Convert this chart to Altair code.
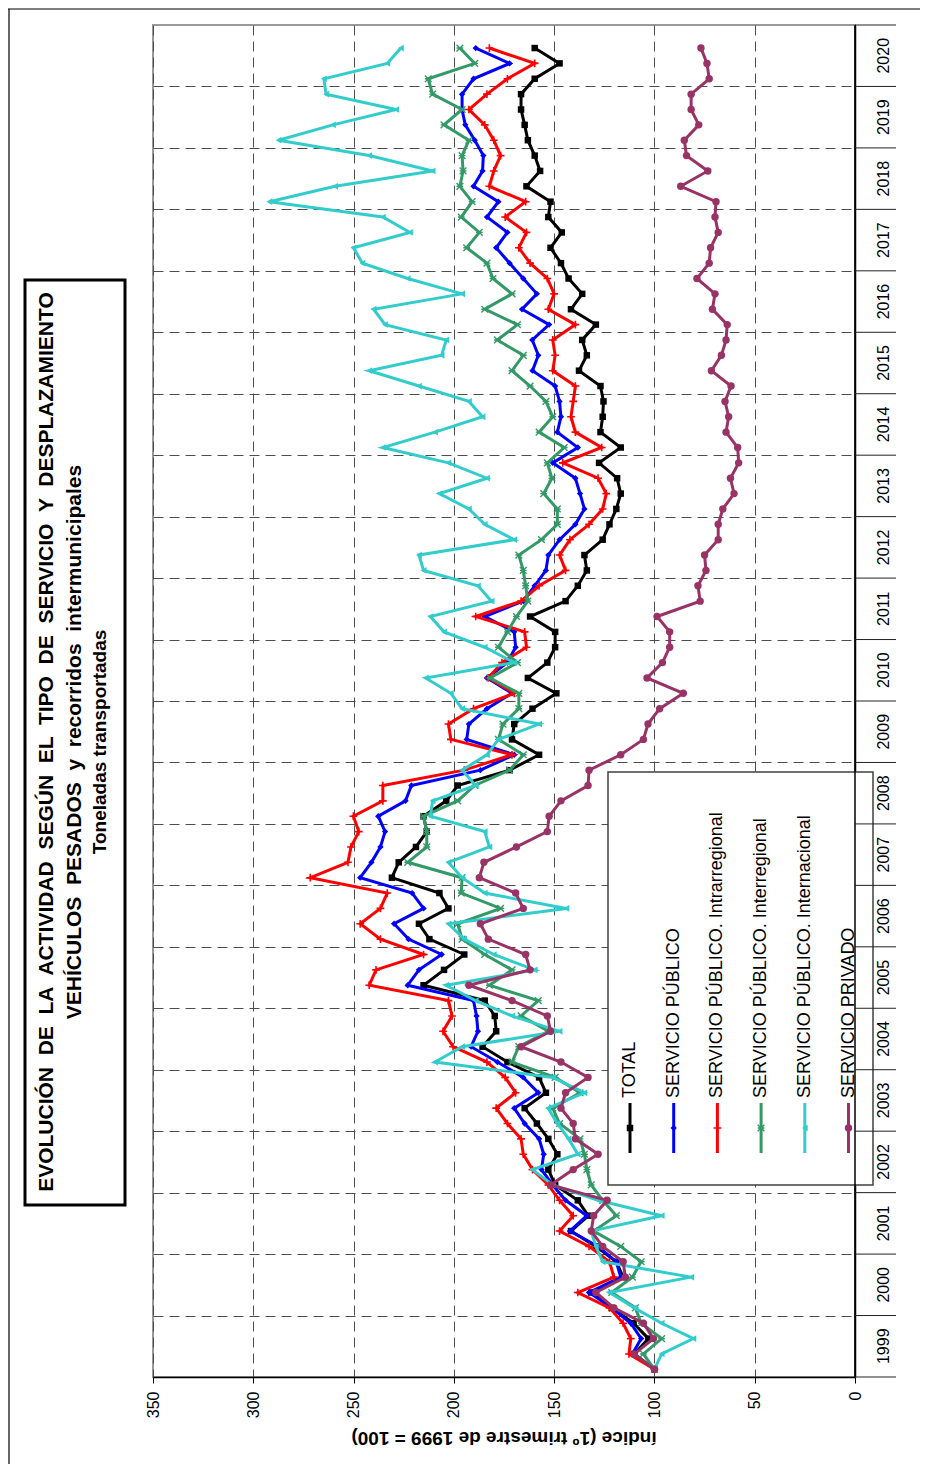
import altair as alt
import pandas as pd

FONT = "Liberation Sans"
W, H = 702, 1352

YEARS = list(range(1999, 2021))
QUARTERS = [f"{y}-T{q}" for y in YEARS for q in range(1, 5)][:87]
INDEX_TICKS = [0, 50, 100, 150, 200, 250, 300, 350]

TITLE_LINES = [
    "EVOLUCIÓN  DE  LA  ACTIVIDAD  SEGÚN  EL  TIPO  DE  SERVICIO  Y  DESPLAZAMIENTO",
    "VEHÍCULOS  PESADOS  y  recorridos  intermunicipales",
    "Toneladas transportadas",
]
AXIS_TITLE = "índice (1º trimestre de 1999 = 100)"

SERIES = [
    "TOTAL",
    "SERVICIO PÚBLICO",
    "SERVICIO PÚBLICO. Intrarregional",
    "SERVICIO PÚBLICO. Interregional",
    "SERVICIO PÚBLICO. Internacional",
    "SERVICIO PRIVADO",
]

total = [100, 110, 103, 110.4, 121.3, 131.5, 115.6, 119, 129.2, 141.6,
         133, 138.2, 149.5, 152.9, 148.4, 152.9, 158.6, 164.7, 154.1, 157.5,
         173.3, 185.7, 178.9, 179.6, 184.6, 215.1, 204.9, 194.8, 212.2, 217.4,
         202.7, 207.2, 230.9, 227.5, 218.9, 213.5, 215.1, 203.8, 198.1, 172.2,
         157.5, 171, 169.9, 160.8, 148.9, 163.1, 153.4, 149.5, 149.5, 162,
         144.3, 138.2, 133.7, 134.9, 125.8, 122.4, 119, 116.8, 118.6, 127.6,
         116.8, 126.9, 125.8, 125.4, 126.9, 137.6, 133.7, 136, 129.2, 141.6,
         136, 142.8, 146.6, 151.8, 146.2, 152.9, 151.8, 163.8, 157, 159.7,
         163.1, 164.7, 166.5, 166.5, 159.7, 147.3, 159.7]

publico = [100, 111, 106.6, 111.8, 121.3, 132.6, 116.8, 119, 128.1, 142.1,
           133.7, 144.3, 150.7, 156.3, 155.2, 157.5, 164.7, 169.9, 157.9, 165.4,
           178.3, 191.4, 188, 188.7, 190.2, 223, 217.4, 206.1, 222.6, 229.8,
           215.1, 220.8, 246.7, 241.1, 236.6, 234.3, 237.7, 224.1, 221.2, 186.8,
           169.9, 193.6, 192.5, 183.5, 171, 183.5, 173.3, 169.2, 169.9, 184.6,
           165.4, 159.7, 154.1, 152.9, 147.3, 139.4, 134.9, 137.1, 139.4, 150.7,
           138.2, 148.4, 146.6, 147.3, 149.5, 160.8, 157.9, 160.9, 152.5, 166,
           158.6, 165.4, 172.2, 178.9, 173.3, 183.5, 177.8, 190.2, 185.7, 185.3,
           189.6, 194.3, 195.9, 195.9, 190.2, 172.2, 189.1]

intrarregional = [100, 112.7, 111.8, 115.6, 122.4, 138.2, 120.2, 122.4, 132.6, 147.3,
                  140.5, 147.3, 152.9, 160.8, 165.4, 166.5, 173.3, 178.9, 169.2, 174.4,
                  183.5, 200.4, 205.4, 200.9, 202.7, 242.2, 238.8, 215.1, 236.6, 246.7,
                  236.6, 233.2, 271.6, 252.8, 251.3, 247.4, 250.1, 235.4, 235.4, 194.8,
                  171, 201.5, 202.7, 190.2, 169.9, 182.8, 176, 163.8, 164.7, 189.1,
                  166.5, 157.5, 144.3, 147.3, 142.1, 132.6, 125.8, 124, 128.1, 145.7,
                  126.3, 139.4, 141.6, 140.5, 139.4, 150.7, 149.5, 150.7, 139.4, 152.9,
                  150, 153.4, 162, 167.6, 163.8, 174.4, 164.2, 182.3, 180.1, 176.7,
                  180.1, 184.6, 192.5, 183.5, 173.3, 159.7, 182.3]

interregional = [100, 105.5, 96.4, 106.6, 109.5, 121.3, 111, 106.6, 116.8, 130.3,
                 119, 125.8, 131.5, 133.7, 134.9, 137.1, 147.3, 150.7, 137.1, 149.5,
                 171, 167.6, 152.9, 166.5, 157.9, 182.3, 171, 184.6, 195.9, 198.1,
                 176.7, 196.3, 195.9, 223, 213.5, 213.5, 215.1, 198.1, 189.6, 172.2,
                 165.4, 177.8, 175.5, 167.6, 167.6, 181.9, 168.3, 177.8, 173.3, 168.8,
                 163.1, 164.2, 165.4, 167.6, 156.3, 148.4, 148.4, 155.2, 151.1, 153.4,
                 145, 157.5, 150.7, 154.1, 162, 171, 165.4, 178.3, 168.3, 184.6,
                 171, 180.5, 183.5, 193.6, 187.3, 196.3, 190.9, 197, 195.4, 195.9,
                 192.5, 204.9, 195.9, 210.6, 212.8, 189.6, 197]

internacional = [100, 96.4, 80.6, 96.4, 110, 122.4, 81.7, 125.8, 129.2, 131.5,
                 96.4, 128.1, 150.7, 160.8, 138.2, 142.8, 148.4, 153, 134.9, 150.7,
                 209.4, 195.9, 147.3, 171, 189.1, 203.8, 159.7, 180.1, 194.8, 202.7,
                 143.9, 184.6, 195.9, 202.7, 182.3, 184.6, 211.7, 210.6, 189.1, 195.9,
                 183.5, 177.8, 157.5, 195.9, 201.5, 214, 169.9, 184.6, 204.9, 211.7,
                 181.2, 188, 215.1, 217.4, 169.9, 184.6, 192.5, 207.2, 183.5, 202.7,
                 235.4, 209.4, 185.7, 192.5, 217.4, 242.2, 206.1, 203.8, 234.3, 240,
                 195.9, 223, 245.6, 250.1, 221.9, 235.4, 292, 259.2, 210.6, 242.2,
                 287.4, 260.3, 228.8, 263.7, 264.8, 233.2, 226.4]

privado = [100, 110, 100.5, 105.5, 120.2, 129.2, 114.5, 115.6, 125.8, 131.5,
           130.3, 123.6, 151.8, 140.5, 128.1, 139.4, 140.5, 146.6, 144.3, 133.1,
           146.6, 166.5, 151.8, 153.4, 171, 192.5, 162, 164.2, 182.8, 186.8,
           165.4, 169.2, 187.3, 185, 168.8, 153.4, 152.5, 146.6, 133.1, 132.6,
           116.8, 105.5, 103.2, 97.4, 85.6, 103.7, 96, 92.4, 92.4, 98.7,
           77.2, 78.3, 74.3, 75, 68.2, 68.2, 65.9, 60.3, 62.1, 58,
           58.5, 64.3, 63, 64.8, 61.8, 71.6, 66.6, 64.3, 63.7, 71.1,
           69.8, 78.8, 72.7, 72, 68.2, 69.8, 69.3, 86.9, 73.4, 84,
           85.1, 77.9, 81.7, 81.7, 72.7, 73.8, 76.8]

VALUES = [total, publico, intrarregional, interregional, internacional, privado]
COLORS = ["#000000", "#0000FF", "#FF0000", "#339966", "#33CCCC", "#993366"]
PLUS = "M-1,0L1,0M0,-1L0,1"
STAR = "M-1,-1L1,1M-1,1L1,-1M-1,0L1,0"
MARKERS = [
    dict(shape="square", filled=True, size=42),
    dict(shape="diamond", filled=True, size=40),
    dict(shape=PLUS, filled=False, size=60, strokeWidth=1.6),
    dict(shape=STAR, filled=False, size=45, strokeWidth=1.4),
    dict(shape="triangle-left", filled=True, size=45),
    dict(shape="circle", filled=True, size=55),
]

XS = alt.Scale(domain=[0, 350], reverse=True, nice=False, zero=False)
YS = alt.Scale(domain=[0, 88], nice=False, zero=False)
GRID = dict(grid=True, gridColor="#4d4d4d", gridDash=[10, 6], gridWidth=1)
XA = alt.Axis(values=INDEX_TICKS, title=None, labelAngle=270, labelAlign="right",
              labelBaseline="middle", labelFont=FONT, labelFontSize=16, labelColor="black",
              labelFlush=False, tickSize=6, tickColor="black", domainColor="black",
              domainWidth=1.5, labelPadding=8, **GRID)
YA = alt.Axis(orient="right", values=[4 * k for k in range(1, 22)], title=None,
              labels=False, ticks=False, domainColor="black", domainWidth=1.5, **GRID)


def spaced(s):
    # keep the wide word spacing of the original title (SVG collapses plain spaces)
    return s.replace("  ", " \u00a0")


layers = []

# series
for name, vals, color, mk in zip(SERIES, VALUES, COLORS, MARKERS):
    df = pd.DataFrame({"pos": [i + 0.5 for i in range(len(vals))], "value": vals,
                       "quarter": QUARTERS[:len(vals)], "serie": name})
    base = alt.Chart(df).encode(x=alt.X("value:Q", scale=XS, axis=XA),
                                y=alt.Y("pos:Q", scale=YS, axis=YA))
    layers.append(base.mark_line(color=color, strokeWidth=3).encode(order="pos:Q"))
    layers.append(base.mark_point(color=color, opacity=1, **mk))

# legend
layers.append(alt.Chart(pd.DataFrame({"a": [0]})).mark_rect(
    fill="white", stroke="#404040", strokeWidth=1.5).encode(
    x=alt.value(455), x2=alt.value(720), y=alt.value(747), y2=alt.value(1160)))
for i, (name, color, mk) in enumerate(zip(SERIES, COLORS, MARKERS)):
    lx = 477 + i * 43.7
    one = alt.Chart(pd.DataFrame({"a": [0]}))
    layers.append(one.mark_rule(color=color, strokeWidth=3).encode(
        x=alt.value(lx), y=alt.value(1078), y2=alt.value(1128)))
    layers.append(one.mark_point(color=color, opacity=1, **mk).encode(
        x=alt.value(lx), y=alt.value(1103)))
    layers.append(one.mark_text(angle=270, align="left", baseline="middle", font=FONT,
                                fontSize=18, color="black").encode(
        x=alt.value(lx), y=alt.value(1073), text=alt.value(name)))

# right axis line and year band drawn above the legend box
layers.append(alt.Chart(pd.DataFrame({"a": [0]})).mark_rule(color="black", strokeWidth=1.5).encode(
    x=alt.value(W), y=alt.value(0), y2=alt.value(H)))
sep_df = pd.DataFrame({"b": [4 * k for k in range(len(YEARS) + 1)]})
layers.append(alt.Chart(sep_df).mark_rule(color="#222222", strokeWidth=1).encode(
    y=alt.Y("b:Q", scale=YS, axis=YA), x=alt.value(W), x2=alt.value(W + 41)))
yl_df = pd.DataFrame({"mid": [4 * k + 2 for k in range(len(YEARS))], "year": [str(y) for y in YEARS]})
layers.append(alt.Chart(yl_df).mark_text(angle=270, align="center", baseline="middle",
                                         font=FONT, fontSize=16, color="black").encode(
    y=alt.Y("mid:Q", scale=YS, axis=YA), x=alt.value(W + 29), text="year:N"))

# title box
layers.append(alt.Chart(pd.DataFrame({"a": [0]})).mark_rect(
    fill="white", stroke="black", strokeWidth=3).encode(
    x=alt.value(-128), x2=alt.value(-28), y=alt.value(255), y2=alt.value(1180)))
for txt, tx, fs in zip(TITLE_LINES, [-106, -78, -53], [21, 21, 19]):
    layers.append(alt.Chart(pd.DataFrame({"a": [0]})).mark_text(
        angle=270, align="center", baseline="middle", font=FONT, fontSize=fs,
        fontWeight="bold", color="black").encode(
        x=alt.value(tx), y=alt.value(717), text=alt.value(spaced(txt))))

# axis title (upside down, like the rotated original)
layers.append(alt.Chart(pd.DataFrame({"a": [0]})).mark_text(
    angle=180, align="center", baseline="middle", font=FONT, fontSize=19,
    fontWeight="bold", color="black").encode(
    x=alt.value(W / 2), y=alt.value(1413), text=alt.value(AXIS_TITLE)))

# outer frame (top and left edges)
layers.append(alt.Chart(pd.DataFrame({"a": [0]})).mark_rule(color="black", strokeWidth=1.2).encode(
    x=alt.value(-145), x2=alt.value(767), y=alt.value(-16)))
layers.append(alt.Chart(pd.DataFrame({"a": [0]})).mark_rule(color="black", strokeWidth=1.2).encode(
    x=alt.value(-144), y=alt.value(-16), y2=alt.value(1439)))

chart = alt.layer(*layers).properties(
    width=W, height=H,
    autosize=alt.AutoSizeParams(type="none"),
    padding={"left": 145, "top": 17, "right": 65, "bottom": 87},
).configure_view(stroke="#999999", strokeWidth=2)

chart.save("out.html", embed_options={"renderer": "svg", "actions": False})
